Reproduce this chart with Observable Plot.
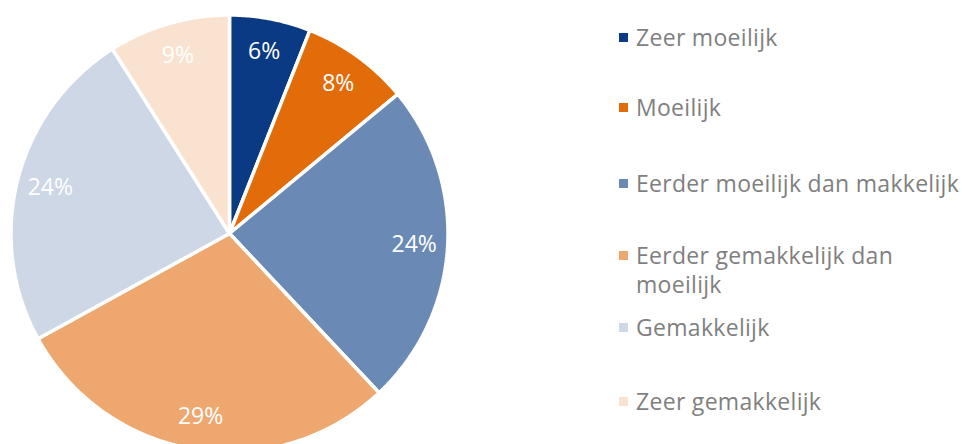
<!DOCTYPE html>
<html><head><meta charset="utf-8">
<script src="https://cdn.jsdelivr.net/npm/d3@7"></script>
<script src="https://cdn.jsdelivr.net/npm/@observablehq/plot@0.6"></script>
<style>
body{margin:0;background:#fff;font-family:"Open Sans",sans-serif;}
#wrap{position:relative;width:962px;height:444px;overflow:hidden}
#chart{position:absolute;left:0;top:0}
#legend{position:absolute;left:619px;top:0;width:343px;height:444px}
.item{position:absolute;left:0;display:flex;align-items:flex-start;color:#7f7f7f;font-size:23px;letter-spacing:0.3px;line-height:29px;width:343px}
.sw{width:9px;height:9px;margin-top:10px;margin-right:8px;flex:none}
.tx{width:326px}
</style></head><body>
<div id="wrap"><div id="chart"></div><div id="legend"></div></div>
<script>
const categories = ["Zeer moeilijk","Moeilijk","Eerder moeilijk dan makkelijk","Eerder gemakkelijk dan moeilijk","Gemakkelijk","Zeer gemakkelijk"];
const values = [6, 8, 24, 29, 24, 9];
const colors = ["#0a3a84","#e36c0a","#6a8ab5","#eea76f","#cdd7e6","#f9e2d0"];

const R = 218.5, RL = 185;
const arcs = d3.pie().sort(null).value(d => d)(values);
const points = [];
arcs.forEach((a, i) => {
  const cat = categories[i];
  points.push({cat, x: 0, y: 0});
  const n = Math.max(2, Math.ceil((a.endAngle - a.startAngle) / 0.01));
  for (let k = 0; k <= n; k++) {
    const t = a.startAngle + (a.endAngle - a.startAngle) * k / n;
    points.push({cat, x: R * Math.sin(t), y: -R * Math.cos(t)});
  }
});
const labelData = arcs.map((a, i) => {
  const m = (a.startAngle + a.endAngle) / 2;
  return {cat: categories[i], text: values[i] + "%", x: RL * Math.sin(m), y: -RL * Math.cos(m)};
});

const plot = Plot.plot({
  width: 600, height: 444,
  marginTop: 0, marginRight: 0, marginBottom: 0, marginLeft: 0,
  x: {domain: [-229, 371], range: [0, 600], axis: null},
  y: {domain: [-233, 211], range: [0, 444], axis: null},
  color: {domain: categories, range: colors},
  style: {fontFamily: "Open Sans, sans-serif", background: "transparent", overflow: "hidden"},
  marks: [
    Plot.line(points, {x: "x", y: "y", z: "cat", fill: "cat", stroke: "white", strokeWidth: 3.5, curve: "linear-closed", strokeLinejoin: "miter"}),
    Plot.text(labelData, {x: "x", y: "y", text: "text", fill: "white", fontSize: 23})
  ]
});
document.getElementById("chart").appendChild(plot);

const tops = [23, 93, 169, 241, 313, 387];
const legend = document.getElementById("legend");
categories.forEach((c, i) => {
  const it = document.createElement("div");
  it.className = "item";
  it.style.top = tops[i] + "px";
  const sw = document.createElement("span");
  sw.className = "sw";
  sw.style.background = colors[i];
  const tx = document.createElement("span");
  tx.className = "tx";
  tx.textContent = c;
  it.appendChild(sw); it.appendChild(tx);
  legend.appendChild(it);
});
</script>
</body></html>
